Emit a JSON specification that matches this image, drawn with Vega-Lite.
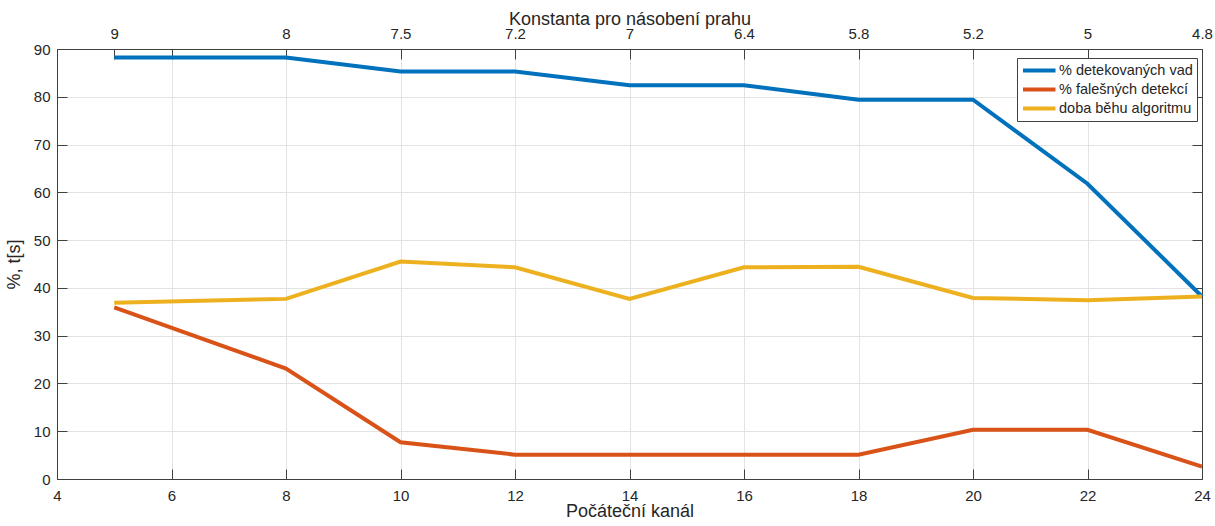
{
  "$schema": "https://vega.github.io/schema/vega-lite/v6.json",
  "width": 1145,
  "height": 430,
  "autosize": {"type": "none"},
  "padding": {"left": 57, "top": 49, "right": 13, "bottom": 47},
  "background": "white",
  "config": {
    "font": "Liberation Sans",
    "view": {"stroke": "#404040", "strokeWidth": 1},
    "axis": {
      "domainColor": "#404040",
      "tickColor": "#404040",
      "tickSize": -10,
      "labelColor": "#262626",
      "labelFontSize": 15,
      "titleColor": "#262626",
      "titleFontSize": 18,
      "titleFontWeight": "normal",
      "gridColor": "#e3e3e3",
      "gridWidth": 1
    }
  },
  "data": {
    "values": [
      {"kanal": 5, "konstanta": 9, "vady": 88.2, "falesne": 35.9, "doba": 36.9},
      {"kanal": 8, "konstanta": 8, "vady": 88.2, "falesne": 23.1, "doba": 37.7},
      {"kanal": 10, "konstanta": 7.5, "vady": 85.3, "falesne": 7.7, "doba": 45.5},
      {"kanal": 12, "konstanta": 7.2, "vady": 85.3, "falesne": 5.1, "doba": 44.3},
      {"kanal": 14, "konstanta": 7, "vady": 82.4, "falesne": 5.1, "doba": 37.7},
      {"kanal": 16, "konstanta": 6.4, "vady": 82.4, "falesne": 5.1, "doba": 44.3},
      {"kanal": 18, "konstanta": 5.8, "vady": 79.4, "falesne": 5.1, "doba": 44.4},
      {"kanal": 20, "konstanta": 5.2, "vady": 79.4, "falesne": 10.3, "doba": 37.9},
      {"kanal": 22, "konstanta": 5, "vady": 61.8, "falesne": 10.3, "doba": 37.4},
      {"kanal": 24, "konstanta": 4.8, "vady": 38.2, "falesne": 2.6, "doba": 38.2}
    ]
  },
  "transform": [
    {"fold": ["vady", "falesne", "doba"], "as": ["klic", "hodnota"]},
    {"lookup": "klic", "from": {"data": {"values": [
      {"klic": "vady", "serie": "% detekovaných vad"},
      {"klic": "falesne", "serie": "% falešných detekcí"},
      {"klic": "doba", "serie": "doba běhu algoritmu"}
    ]}, "key": "klic", "fields": ["serie"]}}
  ],
  "layer": [
    {
      "mark": {"type": "line", "strokeWidth": 4},
      "encoding": {
        "x": {
          "field": "kanal", "type": "quantitative",
          "scale": {"domain": [4, 24], "nice": false, "zero": false},
          "axis": {
            "orient": "bottom", "values": [4, 6, 8, 10, 12, 14, 16, 18, 20, 22, 24],
            "title": "Počáteční kanál", "labelPadding": 19, "titlePadding": -1,
            "labelFlush": false
          }
        },
        "y": {
          "field": "hodnota", "type": "quantitative",
          "scale": {"domain": [0, 90], "nice": false},
          "axis": {
            "orient": "left", "values": [0, 10, 20, 30, 40, 50, 60, 70, 80, 90],
            "title": "%, t[s]", "labelPadding": 17, "titlePadding": 10
          }
        },
        "color": {
          "field": "serie", "type": "nominal",
          "scale": {
            "domain": ["% detekovaných vad", "% falešných detekcí", "doba běhu algoritmu"],
            "range": ["#0072BD", "#D95319", "#EDB120"]
          },
          "legend": {
            "title": null, "orient": "none", "legendX": 960, "legendY": 9,
            "symbolType": "M-1,0H4", "symbolSize": 169, "symbolStrokeWidth": 4,
            "labelFontSize": 14.5, "labelColor": "#262626", "labelOffset": 21,
            "rowPadding": 2, "padding": 4, "strokeColor": "#404040", "fillColor": "white"
          }
        }
      }
    },
    {
      "mark": {"type": "point", "opacity": 0},
      "encoding": {
        "x": {
          "field": "kanal", "type": "quantitative",
          "axis": {
            "orient": "top", "values": [4, 5, 6, 8, 10, 12, 14, 16, 18, 20, 22, 24],
            "grid": false, "labelFlush": false,
            "labelExpr": "datum.value == 5 ? '9' : datum.value == 8 ? '8' : datum.value == 10 ? '7.5' : datum.value == 12 ? '7.2' : datum.value == 14 ? '7' : datum.value == 16 ? '6.4' : datum.value == 18 ? '5.8' : datum.value == 20 ? '5.2' : datum.value == 22 ? '5' : datum.value == 24 ? '4.8' : ''",
            "title": "Konstanta pro násobení prahu", "labelPadding": 18, "titlePadding": -2
          }
        },
        "y": {
          "field": "hodnota", "type": "quantitative",
          "axis": {
            "orient": "right", "values": [0, 10, 20, 30, 40, 50, 60, 70, 80, 90],
            "grid": false, "labels": false, "title": null
          }
        }
      }
    }
  ],
  "resolve": {"axis": {"x": "independent", "y": "independent"}}
}
